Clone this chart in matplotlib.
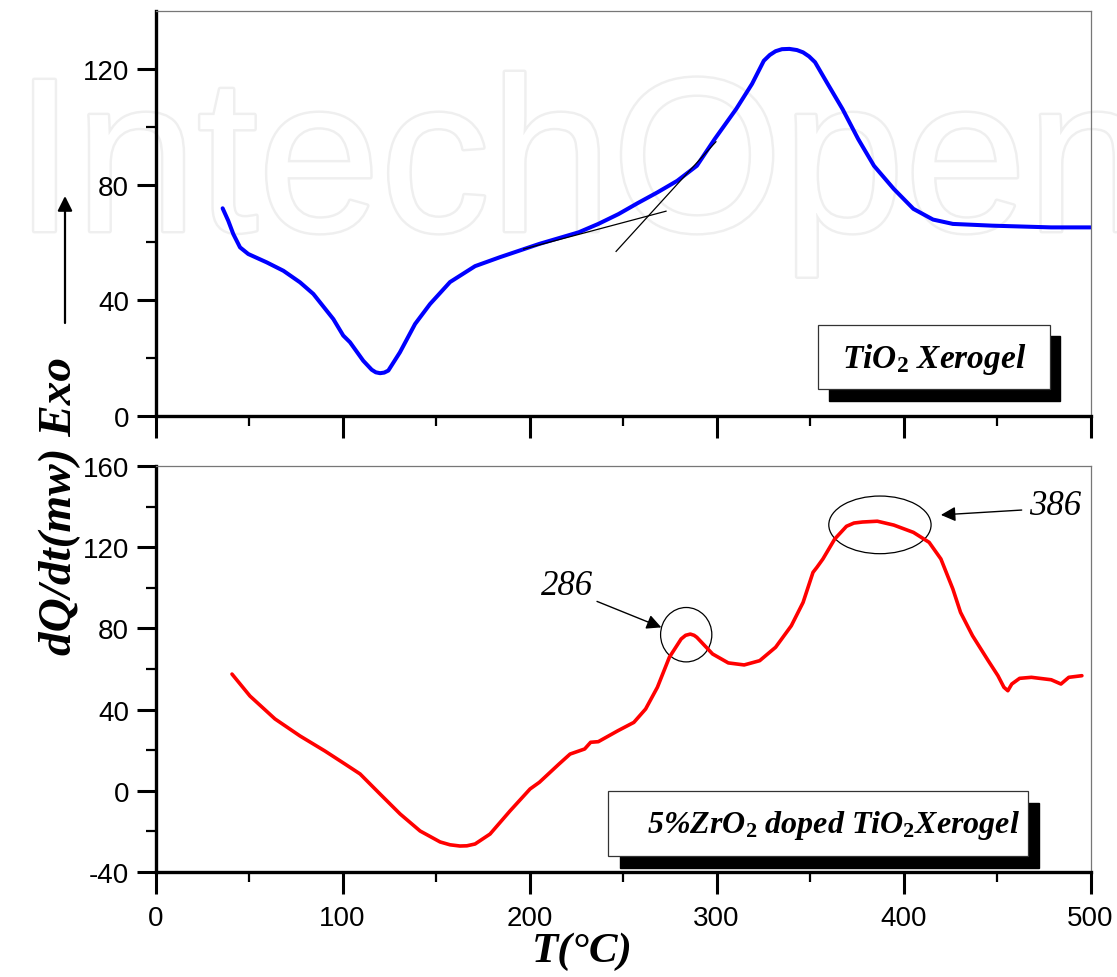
import matplotlib
matplotlib.use("Agg")
import matplotlib.pyplot as plt
from matplotlib.patches import Ellipse, Rectangle
import matplotlib.patheffects as pe

plt.rcParams['font.family'] = ['Liberation Sans', 'DejaVu Sans']
plt.rcParams['axes.unicode_minus'] = False
plt.rcParams['mathtext.fontset'] = 'custom'
plt.rcParams['mathtext.rm'] = 'Liberation Serif:bold'
plt.rcParams['mathtext.it'] = 'Liberation Serif:italic:bold'
plt.rcParams['mathtext.bf'] = 'Liberation Serif:bold'

# DSC trace, pure TiO2 xerogel
t_tio2 = [35.9, 38.9, 41.6, 45.2, 49.6, 59.5, 68.4, 77.3, 84.4, 95.1, 100.4, 104.0,
          111.1, 115.6, 117.8, 120.1, 122.3, 124.5, 130.7, 138.8, 146.8, 157.5, 170.9,
          184.2, 205.3, 226.3, 236.8, 247.6, 257.9, 268.4, 279.0, 289.5, 299.0, 310.5,
          319.0, 325.3, 328.5, 331.6, 335.0, 339.0, 343.0, 346.3, 349.5, 352.7, 359.0,
          367.4, 375.8, 384.2, 394.8, 405.3, 415.8, 426.4, 447.3, 478.9, 500.0]
q_tio2 = [71.8, 67.5, 62.9, 58.3, 56.0, 53.1, 50.2, 46.2, 42.2, 33.5, 27.8, 25.5,
          19.1, 16.0, 15.1, 14.8, 15.0, 15.7, 22.0, 31.8, 38.7, 46.3, 51.8,
          54.9, 59.5, 63.5, 66.4, 69.8, 73.6, 77.3, 81.3, 86.5, 95.7, 106.1,
          114.8, 122.8, 124.8, 126.1, 126.8, 126.9, 126.5, 125.7, 124.3, 122.3, 115.3,
          106.1, 95.7, 86.5, 78.5, 71.6, 67.9, 66.4, 65.8, 65.2, 65.2]

# tangent construction on the TiO2 curve
tan_a_t = [196.8, 273.0]
tan_a_q = [57.7, 70.8]
tan_b_t = [246.3, 299.7]
tan_b_q = [56.9, 94.8]

# DSC trace, 5% ZrO2 doped TiO2 xerogel
t_zr = [40.9, 50.5, 63.9, 77.3, 90.6, 101.3, 109.4, 120.1, 130.8, 141.5, 152.2, 157.5,
        162.8, 166.5, 170.9, 178.9, 189.6, 200.3, 205.3, 215.8, 221.7, 229.5, 232.7,
        236.8, 247.3, 255.8, 262.1, 268.4, 274.8, 281.1, 283.5, 286.0, 288.0, 289.5,
        297.9, 306.3, 314.8, 323.1, 331.6, 340.0, 346.3, 351.6, 353.7, 356.9, 363.2,
        369.5, 373.5, 378.0, 386.0, 394.8, 405.3, 413.7, 420.0, 426.4, 430.5, 436.9,
        445.3, 450.5, 453.7, 455.8, 457.9, 462.1, 468.4, 479.0, 484.2, 488.4, 495.4]
q_zr = [57.5, 46.7, 35.4, 27.0, 19.6, 13.2, 8.3, -1.6, -11.4, -19.8, -25.2, -26.6,
        -27.2, -27.1, -26.2, -21.3, -9.9, 0.9, 4.2, 13.2, 18.1, 20.6, 23.9,
        24.2, 29.6, 33.7, 40.3, 51.0, 65.8, 74.8, 76.6, 77.2, 76.6, 75.6,
        67.4, 63.0, 62.0, 64.1, 70.7, 81.3, 92.8, 107.6, 110.1, 114.2, 124.0,
        130.3, 131.9, 132.4, 132.8, 130.9, 127.3, 122.4, 114.2, 99.4, 87.9, 76.4,
        64.1, 56.7, 51.0, 49.3, 52.6, 55.4, 55.9, 54.7, 52.6, 55.9, 56.7]

peak_t = [286, 386]
peak_q = [77.2, 132.8]

W, H = 1117, 978
fig = plt.figure(figsize=(W / 100, H / 100), dpi=100)

def px(x, y):
    return x / W, 1 - y / H

# faint watermark behind both panels
fig.text(*px(14, 232), "IntechOpen", fontsize=158, color='white',
         family='Liberation Sans', zorder=-5,
         path_effects=[pe.withStroke(linewidth=3.5, foreground='#efefef')])

ax1 = fig.add_axes([155.5 / W, 1 - 417 / H, 935 / W, 405 / H])
ax2 = fig.add_axes([155.5 / W, 1 - 873 / H, 935 / W, 406 / H])

serif_bi = dict(family='Liberation Serif', weight='bold', style='italic')

for ax in (ax1, ax2):
    ax.set_facecolor('none')
    ax.set_xlim(0, 500)
    ax.set_xticks([0, 100, 200, 300, 400, 500])
    ax.set_xticks([50, 150, 250, 350, 450], minor=True)
    ax.tick_params(which='major', direction='out', length=14, width=2.2,
                   labelsize=20, pad=5)
    ax.tick_params(which='minor', direction='out', length=7, width=1.6)
    ax.tick_params(axis='x', which='major', length=16, pad=8)
    for side in ('left', 'bottom'):
        ax.spines[side].set_linewidth(2.4)
    for side in ('top', 'right'):
        ax.spines[side].set_linewidth(0.9)
        ax.spines[side].set_color('#777777')

# top panel
ax1.plot(t_tio2, q_tio2, color='#0000ff', lw=2.9, solid_capstyle='round',
         solid_joinstyle='round')
ax1.plot(tan_a_t, tan_a_q, color='black', lw=0.9, zorder=3)
ax1.plot(tan_b_t, tan_b_q, color='black', lw=0.9, zorder=3)
ax1.set_ylim(0, 140)
ax1.set_yticks([0, 40, 80, 120])
ax1.set_yticks([20, 60, 100], minor=True)
ax1.tick_params(axis='x', labelbottom=False)

ax1.add_patch(Rectangle((360.1, 5.2), 123.6, 22.5, facecolor='black',
                        edgecolor='black', zorder=3))
ax1.add_patch(Rectangle((354.3, 9.3), 124.0, 22.3, facecolor='white',
                        edgecolor='#333333', lw=0.9, zorder=4))
ax1.text(416.3, 20.0, r"TiO$_2$ Xerogel", ha='center', va='center',
         fontsize=24, zorder=5, **serif_bi)

# bottom panel
ax2.plot(t_zr, q_zr, color='#ff0000', lw=2.6, solid_capstyle='round',
         solid_joinstyle='round')
ax2.set_ylim(-40, 160)
ax2.set_yticks([-40, 0, 40, 80, 120, 160])
ax2.set_yticks([-20, 20, 60, 100, 140], minor=True)

ax2.add_patch(Ellipse((283.8, 76.9), 27.4, 26.8, fill=False, color='black', lw=0.9))
ax2.add_patch(Ellipse((387.4, 131.0), 54.7, 28.4, fill=False, color='black', lw=0.9))

arrow = dict(arrowstyle='-|>', color='black', lw=1.0, mutation_scale=22,
             shrinkA=0, shrinkB=0)
ax2.annotate("", xy=(270.5, 80.5), xytext=(236.1, 93.3), arrowprops=arrow)
ax2.annotate("", xy=(420.0, 135.9), xytext=(463.2, 138.3), arrowprops=arrow)
ax2.text(220.0, 101.0, str(peak_t[0]), ha='center', va='center', fontsize=25,
         family='Liberation Serif', style='italic')
ax2.text(481.0, 140.4, str(peak_t[1]), ha='center', va='center', fontsize=25,
         family='Liberation Serif', style='italic')

ax2.add_patch(Rectangle((248.2, -38.2), 224.3, 32.0, facecolor='black',
                        edgecolor='black', zorder=3))
ax2.add_patch(Rectangle((242.2, -32.0), 224.2, 31.7, facecolor='white',
                        edgecolor='#333333', lw=0.9, zorder=4))
ax2.text(362.5, -16.5, r"5%ZrO$_2$ doped TiO$_2$Xerogel", ha='center', va='center',
         fontsize=23, zorder=5, **serif_bi)

# shared axis titles
fig.text(*px(60, 506), "dQ/dt(mw) Exo", rotation=90, ha='center', va='center',
         fontsize=34, **serif_bi)
fig.add_artist(plt.Annotation("", xy=px(65, 197), xytext=px(65, 324),
                              xycoords='figure fraction', textcoords='figure fraction',
                              arrowprops=dict(arrowstyle='-|>', color='black', lw=1.6,
                                              mutation_scale=22, shrinkA=0, shrinkB=0)))
fig.text(*px(582, 952), "T(°C)", ha='center', va='center', fontsize=31, **serif_bi)

fig.savefig("out.png", dpi=100)
